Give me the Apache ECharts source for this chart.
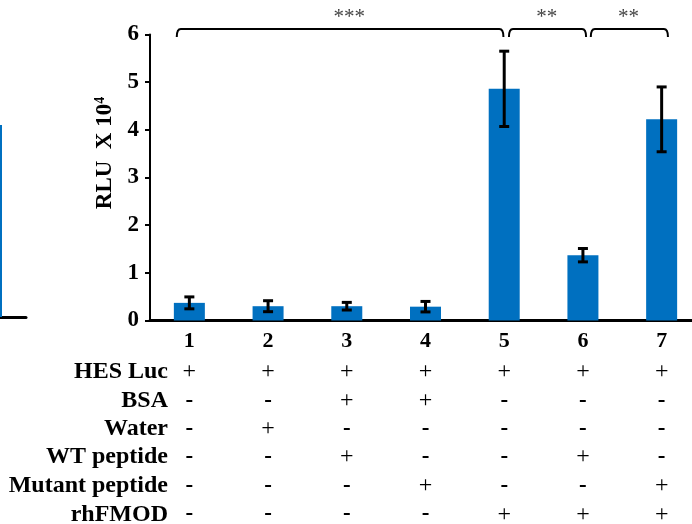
<!DOCTYPE html>
<html>
<head>
<meta charset="utf-8">
<script src="https://cdn.jsdelivr.net/npm/echarts@6/dist/echarts.min.js"></script>
<style>
  html, body { margin: 0; padding: 0; background: #fff; }
  #chart { width: 692px; height: 524px; }
</style>
</head>
<body>
<div id="chart"></div>
<script>
// Lanes 1-7: luciferase reporter signal (RLU x 10^4), mean and error
var lanes = ['1', '2', '3', '4', '5', '6', '7'];
var rlu = [0.37, 0.30, 0.30, 0.29, 4.86, 1.37, 4.22];
var rluErr = [0.125, 0.115, 0.08, 0.11, 0.79, 0.14, 0.68];
var yTicks = { min: 0, max: 6, interval: 1 };

// Treatment table below the axis
var rowNames = ['HES Luc', 'BSA', 'Water', 'WT peptide', 'Mutant peptide', 'rhFMOD'];
var rowHES = ['+', '+', '+', '+', '+', '+', '+'];
var rowBSA = ['-', '-', '+', '+', '-', '-', '-'];
var rowWater = ['-', '+', '-', '-', '-', '-', '-'];
var rowWT = ['-', '-', '+', '-', '-', '+', '-'];
var rowMutant = ['-', '-', '-', '+', '-', '-', '+'];
var rowFMOD = ['-', '-', '-', '-', '+', '+', '+'];
var rows = [rowHES, rowBSA, rowWater, rowWT, rowMutant, rowFMOD];

// Significance brackets: start lane, end lane (0-based, fractional), star text, star position
var bracketStart = [-0.16, 4.06, 5.10];
var bracketEnd = [3.99, 5.04, 6.08];
var bracketStars = ['***', '**', '**'];
var bracketStarPos = [2.03, 4.54, 5.58];

// Edge of the neighbouring panel: bar span on its x scale and its height
var neighbourBarX = [-12, 2];
var neighbourBar = [4.08];

var serif = 'Liberation Serif, Times New Roman, serif';
var barBlue = '#0070C0';
var rowOffsets = [51.5, 80.5, 108.5, 136.5, 165.5, 194];

var tableAxes = rows.map(function (r, k) {
  return {
    type: 'category',
    gridIndex: 0,
    position: 'bottom',
    offset: rowOffsets[k],
    data: r,
    name: rowNames[k],
    nameLocation: 'start',
    nameGap: -18,
    nameTextStyle: { fontFamily: serif, fontWeight: 'bold', fontSize: 24, color: '#000', align: 'right', verticalAlign: 'middle' },
    axisLine: { show: false },
    axisTick: { show: false },
    splitLine: { show: false },
    axisLabel: {
      margin: -12,
      interval: 0,
      formatter: function (v) { return v === '+' ? '{p|+}' : '{m|-}'; },
      rich: {
        p: { fontFamily: serif, fontSize: 24, fontWeight: 'normal', color: '#000', lineHeight: 24 },
        m: { fontFamily: serif, fontSize: 23, fontWeight: 'bold', color: '#000', lineHeight: 24 }
      }
    }
  };
});

var chart = echarts.init(document.getElementById('chart'));

chart.setOption({
  animation: false,
  backgroundColor: '#fff',
  grid: [
    { left: 150, top: 34.5, width: 551, height: 286, containLabel: false, outerBoundsMode: 'none' },
    { left: 0, top: 34.5, width: 26, height: 282.5, containLabel: false, outerBoundsMode: 'none' }
  ],
  xAxis: [
    {
      type: 'category',
      gridIndex: 0,
      data: lanes,
      axisLine: { lineStyle: { color: '#000', width: 3 } },
      axisTick: { show: false },
      axisLabel: { margin: 10, interval: 0, fontFamily: serif, fontWeight: 'bold', fontSize: 22, color: '#000' }
    },
    {
      type: 'value',
      gridIndex: 1,
      min: 0,
      max: 26,
      axisLine: { show: true, onZero: false, lineStyle: { color: '#000', width: 3 } },
      axisTick: { show: false },
      axisLabel: { show: false },
      splitLine: { show: false }
    }
  ].concat(tableAxes),
  yAxis: [
    {
      type: 'value',
      gridIndex: 0,
      min: yTicks.min,
      max: yTicks.max,
      interval: yTicks.interval,
      name: '{t|RLU  X 10}{s|4}',
      nameLocation: 'middle',
      nameGap: 30,
      nameTextStyle: {
        padding: [0, 0, 0, 49],
        rich: {
          t: { fontFamily: serif, fontWeight: 'bold', fontSize: 23, color: '#000', lineHeight: 24 },
          s: { fontFamily: serif, fontWeight: 'bold', fontSize: 14, color: '#000', verticalAlign: 'top', lineHeight: 24 }
        }
      },
      axisLine: { show: true, lineStyle: { color: '#000', width: 2 } },
      axisTick: { show: true, length: 5, lineStyle: { color: '#000', width: 2 } },
      splitLine: { show: false },
      axisLabel: { margin: 11, fontFamily: serif, fontWeight: 'bold', fontSize: 23, color: '#000' }
    },
    {
      type: 'value',
      gridIndex: 1,
      min: 0,
      max: 6,
      show: false
    }
  ],
  series: [
    {
      type: 'bar',
      xAxisIndex: 0,
      yAxisIndex: 0,
      data: rlu,
      barWidth: 31,
      itemStyle: { color: barBlue },
      silent: true
    },
    {
      // neighbouring panel's last bar, cut by the left edge
      type: 'custom',
      xAxisIndex: 1,
      yAxisIndex: 1,
      silent: true,
      clip: false,
      data: neighbourBar.map(function (v) { return [neighbourBarX[0], neighbourBarX[1], v]; }),
      renderItem: function (params, api) {
        var a = api.coord([api.value(0), api.value(2)]);
        var b = api.coord([api.value(1), 0]);
        return {
          type: 'rect',
          shape: { x: a[0], y: a[1], width: b[0] - a[0], height: b[1] - a[1] },
          style: { fill: barBlue }
        };
      }
    },
    {
      // error bars
      type: 'custom',
      xAxisIndex: 0,
      yAxisIndex: 0,
      z: 5,
      silent: true,
      data: rlu.map(function (v, i) { return [i, v, rluErr[i]]; }),
      renderItem: function (params, api) {
        var i = api.value(0), v = api.value(1), e = api.value(2);
        var hi = api.coord([i, v + e]);
        var lo = api.coord([i, v - e]);
        var cap = 5;
        var st = { stroke: '#000', lineWidth: 3 };
        return {
          type: 'group',
          children: [
            { type: 'line', shape: { x1: hi[0], y1: hi[1], x2: lo[0], y2: lo[1] }, style: st },
            { type: 'line', shape: { x1: hi[0] - cap, y1: hi[1], x2: hi[0] + cap, y2: hi[1] }, style: st },
            { type: 'line', shape: { x1: lo[0] - cap, y1: lo[1], x2: lo[0] + cap, y2: lo[1] }, style: st }
          ]
        };
      }
    },
    {
      // significance brackets
      type: 'custom',
      xAxisIndex: 0,
      yAxisIndex: 0,
      z: 5,
      silent: true,
      clip: false,
      data: bracketStart.map(function (s, k) { return [s, bracketEnd[k], bracketStarPos[k], k]; }),
      renderItem: function (params, api) {
        var s = api.value(0), e = api.value(1), p = api.value(2), k = api.value(3);
        var origin = api.coord([0, yTicks.max]);
        var band = api.size([1, 0])[0];
        var x0 = origin[0] + s * band;
        var x1 = origin[0] + e * band;
        var xs = origin[0] + p * band;
        var y = origin[1] - 5.5;
        var d = 8, r = 4;
        var path = 'M' + x0 + ' ' + (y + d) + ' Q' + x0 + ' ' + y + ' ' + (x0 + r) + ' ' + y +
          ' L' + (x1 - r) + ' ' + y + ' Q' + x1 + ' ' + y + ' ' + x1 + ' ' + (y + d);
        return {
          type: 'group',
          children: [
            { type: 'path', shape: { pathData: path }, style: { stroke: '#000', lineWidth: 2, fill: null } },
            {
              type: 'text',
              style: {
                x: xs, y: origin[1] - 17,
                text: bracketStars[k],
                font: 'normal 21px ' + serif,
                fill: '#444',
                align: 'center',
                verticalAlign: 'middle'
              }
            }
          ]
        };
      }
    }
  ]
});
</script>
</body>
</html>
